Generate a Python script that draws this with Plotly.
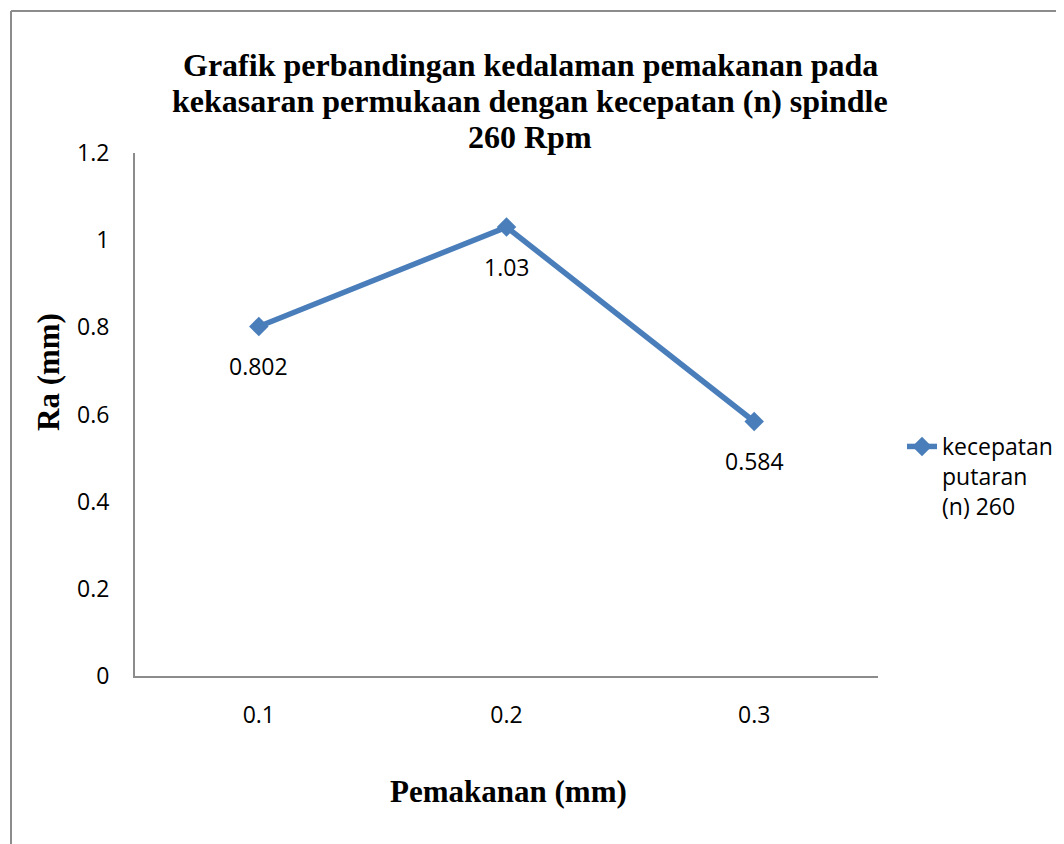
import plotly.graph_objects as go

categories = ["0.1", "0.2", "0.3"]
ra_values = [0.802, 1.03, 0.584]
value_labels = ["0.802", "1.03", "0.584"]
y_ticks = [0, 0.2, 0.4, 0.6, 0.8, 1.0, 1.2]
y_tick_labels = ["0", "0.2", "0.4", "0.6", "0.8", "1", "1.2"]
title_lines = [
    "Grafik perbandingan kedalaman pemakanan pada",
    "kekasaran permukaan dengan kecepatan (n) spindle",
    "260 Rpm",
]
series_name = "kecepatan<br>putaran<br>(n) 260"

BLUE = "#4A7EBB"
GRAY = "#8c8c8c"
SANS = "Open Sans"
SERIF = "Liberation Serif"

# page has an 8px body margin, so the figure is offset by 8px
OFF = 8
W, H = 1064 - OFF, 844 - OFF
L, T = 135 - OFF, 153 - OFF
R = W - (878 - OFF)
B = H - (676 - OFF)
pw = W - L - R
ph = H - T - B


def px_x(x):  # reference pixel -> paper
    return (x - OFF - L) / pw


def px_y(y):
    return (H - B - (y - OFF)) / ph


fig = go.Figure()
fig.add_trace(go.Scatter(
    x=categories, y=ra_values, mode="lines+markers",
    name=series_name,
    line=dict(color=BLUE, width=5.5),
    marker=dict(symbol="diamond", size=15, color=BLUE),
))

for i, (v, t) in enumerate(zip(ra_values, value_labels)):
    fig.add_annotation(x=i, y=v, text=t, showarrow=False, yshift=-40,
                       xanchor="center", yanchor="middle",
                       font=dict(family=SANS, size=23, color="#000"))

# outer frame (top and left edges)
fig.add_shape(type="line", xref="paper", yref="paper",
              x0=px_x(11), x1=px_x(1064), y0=px_y(11), y1=px_y(11),
              line=dict(color=GRAY, width=2))
fig.add_shape(type="line", xref="paper", yref="paper",
              x0=px_x(11), x1=px_x(11), y0=px_y(11), y1=px_y(844),
              line=dict(color=GRAY, width=2))

for line_text, yc in zip(title_lines, [65, 101, 137]):
    fig.add_annotation(xref="paper", yref="paper", x=px_x(530), y=px_y(yc),
                       text="<b>" + line_text + "</b>", showarrow=False,
                       xanchor="center", yanchor="middle",
                       font=dict(family=SERIF, size=32, color="#000"))

fig.add_annotation(xref="paper", yref="paper", x=px_x(48), y=px_y(372),
                   text="<b>Ra (mm)</b>", textangle=-90, showarrow=False,
                   xanchor="center", yanchor="middle",
                   font=dict(family=SERIF, size=31, color="#000"))
fig.add_annotation(xref="paper", yref="paper", x=px_x(508), y=px_y(791),
                   text="<b>Pemakanan (mm)</b>", showarrow=False,
                   xanchor="center", yanchor="middle",
                   font=dict(family=SERIF, size=31, color="#000"))

fig.update_layout(
    width=W, height=H,
    margin=dict(l=L, r=R, t=T, b=B, autoexpand=False),
    paper_bgcolor="white", plot_bgcolor="white",
    xaxis=dict(type="category", range=[-0.5, 2.5], showgrid=False,
               showline=True, linecolor=GRAY, linewidth=2, ticks="",
               tickfont=dict(family=SANS, size=23, color="#000"),
               ticklabelstandoff=17, zeroline=False),
    yaxis=dict(range=[0, 1.2], tickvals=y_ticks, ticktext=y_tick_labels,
               showgrid=False, showline=True, linecolor=GRAY, linewidth=2,
               ticks="", tickfont=dict(family=SANS, size=23, color="#000"),
               ticklabelstandoff=19, zeroline=False),
    showlegend=True,
    legend=dict(x=px_x(902), y=px_y(425), xanchor="left", yanchor="top",
                valign="top", tracegroupgap=0,
                font=dict(family=SANS, size=23, color="#000"),
                bgcolor="rgba(0,0,0,0)", itemwidth=30),
)

fig.write_html("out.html")
